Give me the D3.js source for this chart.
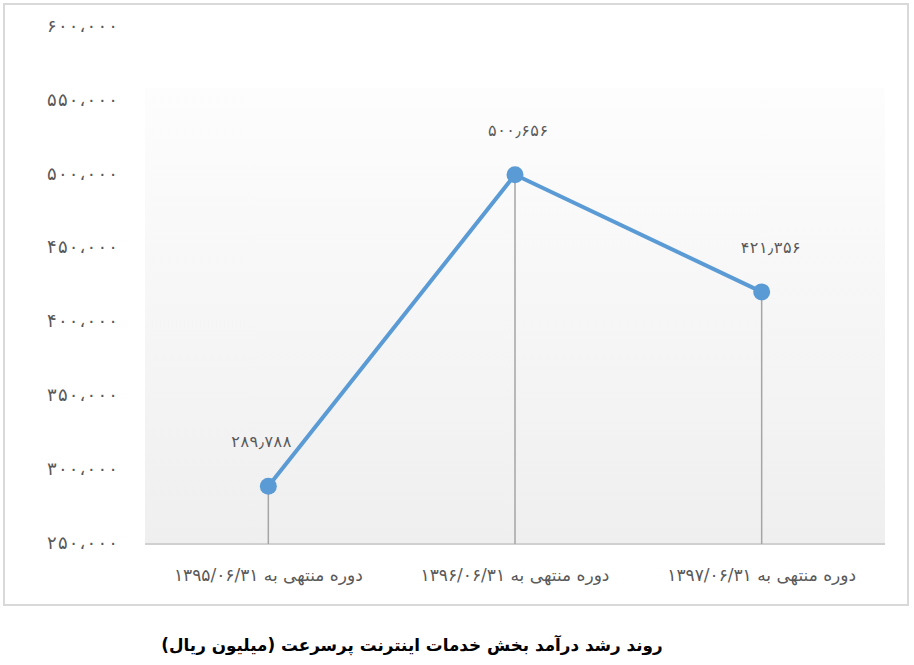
<!DOCTYPE html>
<html><head><meta charset="utf-8">
<script src="https://cdn.jsdelivr.net/npm/d3@7"></script>
<style>
html,body{margin:0;padding:0;background:#fff;}
svg{display:block;}
</style></head>
<body>
<svg id="c" width="914" height="665"></svg>
<script>
const categories = ["دوره منتهی به ۱۳۹۵/۰۶/۳۱", "دوره منتهی به ۱۳۹۶/۰۶/۳۱", "دوره منتهی به ۱۳۹۷/۰۶/۳۱"];
const values = [289788, 500656, 421356];
const valueLabels = ["۲۸۹٫۷۸۸", "۵۰۰٫۶۵۶", "۴۲۱٫۳۵۶"];
const yTicks = [250000, 300000, 350000, 400000, 450000, 500000, 550000, 600000];
const yTickLabels = ["۲۵۰،۰۰۰", "۳۰۰،۰۰۰", "۳۵۰،۰۰۰", "۴۰۰،۰۰۰", "۴۵۰،۰۰۰", "۵۰۰،۰۰۰", "۵۵۰،۰۰۰", "۶۰۰،۰۰۰"];
const title = "روند رشد درآمد بخش خدمات اینترنت پرسرعت (میلیون ریال)";

const svg = d3.select("#c");
const font = "'DejaVu Sans', sans-serif";
const L = 145, R = 885, T = 28, B = 545;

// outer border
svg.append("rect").attr("x", 4).attr("y", 4).attr("width", 904).attr("height", 601)
  .attr("fill", "#fff").attr("stroke", "#d9d9d9").attr("stroke-width", 2);

const defs = svg.append("defs");
const g = defs.append("linearGradient").attr("id", "bg").attr("x1", 0).attr("y1", 0).attr("x2", 0).attr("y2", 1);
g.append("stop").attr("offset", "0%").attr("stop-color", "#fdfdfd");
g.append("stop").attr("offset", "100%").attr("stop-color", "#efefef");

const x = d3.scaleBand().domain(categories).range([L, R]);
const y = d3.scaleLinear().domain([250000, 600000]).range([B, T]);

svg.append("rect").attr("x", L).attr("y", 88).attr("width", R - L).attr("height", 544 - 88)
  .attr("fill", "url(#bg)");

// y axis labels
const yAxis = d3.axisLeft(y).tickValues(yTicks).tickSize(0).tickPadding(0)
  .tickFormat((d, i) => yTickLabels[i]);
const ya = svg.append("g").attr("transform", `translate(118,-2)`).call(yAxis);
ya.select(".domain").remove();
ya.selectAll("text").attr("font-family", font).attr("font-size", 18).attr("fill", "#595959")
  .attr("textLength", 71).attr("lengthAdjust", "spacing").attr("dy", "0.3em");

// x axis
const xAxis = d3.axisBottom(x).tickSize(0).tickPadding(0);
const xa = svg.append("g").attr("transform", `translate(0,544)`).call(xAxis);
xa.select(".domain").attr("stroke", "#d0d0d0").attr("stroke-width", 2).attr("d", `M${L},0H${R}`);
xa.selectAll("text").attr("font-family", font).attr("font-size", 17).attr("fill", "#595959")
  .attr("direction", "rtl").attr("y", 37).attr("dy", 0);

const cx = d => x(d) + x.bandwidth() / 2;

// drop lines
svg.append("g").selectAll("line").data(values).join("line")
  .attr("x1", (d, i) => cx(categories[i])).attr("x2", (d, i) => cx(categories[i]))
  .attr("y1", d => y(d)).attr("y2", 544)
  .attr("stroke", "#a5a5a5").attr("stroke-width", 1.5);

// line
const line = d3.line().x((d, i) => cx(categories[i])).y(d => y(d));
svg.append("path").datum(values).attr("d", line).attr("fill", "none")
  .attr("stroke", "#5b9bd5").attr("stroke-width", 4).attr("stroke-linejoin", "round");

svg.append("g").selectAll("circle").data(values).join("circle")
  .attr("cx", (d, i) => cx(categories[i])).attr("cy", d => y(d)).attr("r", 8.5)
  .attr("fill", "#5b9bd5");

// value labels
const labelDx = [-7, 3, 9];
svg.append("g").selectAll("text").data(values).join("text")
  .attr("x", (d, i) => cx(categories[i]) + labelDx[i]).attr("y", d => y(d) - 39)
  .attr("text-anchor", "middle").attr("font-family", font).attr("font-size", 16)
  .attr("fill", "#595959").attr("textLength", 60).attr("lengthAdjust", "spacing")
  .text((d, i) => valueLabels[i]);

// title
svg.append("text").attr("x", 412).attr("y", 651).attr("text-anchor", "middle")
  .attr("direction", "rtl").attr("font-family", font).attr("font-weight", "bold")
  .attr("font-size", 16.8).attr("fill", "#000").text(title);
</script>
</body></html>
